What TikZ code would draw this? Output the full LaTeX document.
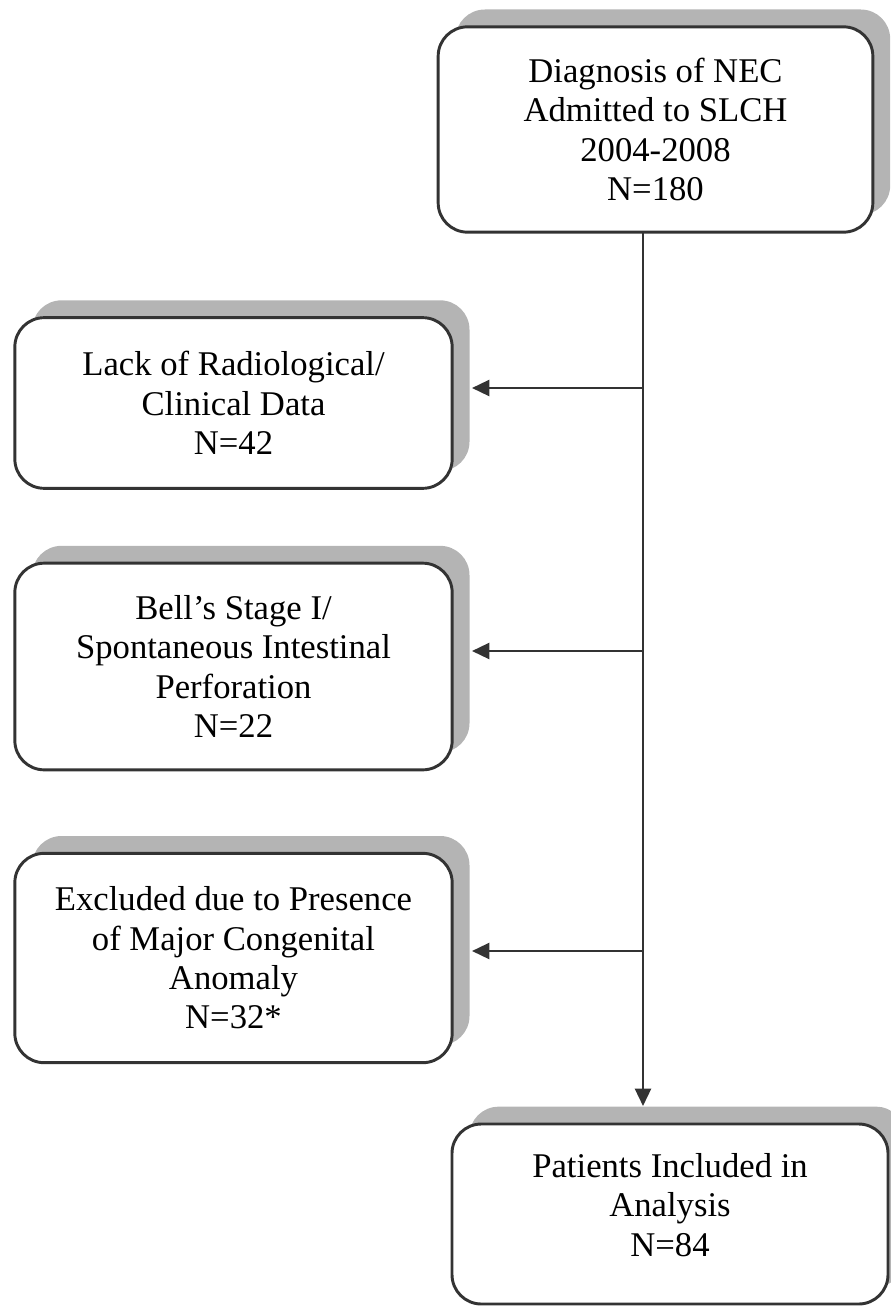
\documentclass[tikz,border=0pt]{standalone}
\usepackage{fontspec}
\setmainfont{Liberation Serif}
\usetikzlibrary{arrows.meta,shadows}
\definecolor{edge}{HTML}{333333}
\definecolor{shade}{HTML}{B4B4B4}
\begin{document}
\begin{tikzpicture}[x=0.75pt,y=-0.75pt,
  box/.style={draw=edge, line width=2.2pt, rounded corners=22pt, fill=white,
    align=center, font=\fontsize{26pt}{29.5pt}\selectfont, inner sep=0pt,
    drop shadow={shadow xshift=13pt, shadow yshift=13pt, fill=shade, opacity=1}},
  conn/.style={draw=edge, line width=1.8pt},
  tip/.style={-{Triangle[length=13pt,width=12pt]}}]
\useasboundingbox (0,0) rectangle (890,1306);
\node[box, minimum width=326pt, minimum height=154pt] (top) at (655.5,129.5)
  {Diagnosis of NEC\\Admitted to SLCH\\2004-2008\\N=180};
\node[box, minimum width=328pt, minimum height=128pt] (b1) at (233.5,403)
  {Lack of Radiological/\\Clinical Data\\N=42};
\node[box, minimum width=328pt, minimum height=155pt] (b2) at (233.5,666.5)
  {Bell's Stage I/\\Spontaneous Intestinal\\Perforation\\N=22};
\node[box, minimum width=328pt, minimum height=157pt] (b3) at (233.5,958)
  {Excluded due to Presence\\of Major Congenital\\Anomaly\\N=32*};
\node[box, minimum width=327pt, minimum height=135pt, text depth=14pt] (fin) at (670,1214)
  {Patients Included in\\Analysis\\N=84};
\coordinate (s) at (643,232);
\coordinate (e) at (643,1106);
\coordinate (j1) at (643,388);
\coordinate (j2) at (643,651);
\coordinate (j3) at (643,951);
\draw[conn] (s) -- (j1) -- (j2) -- (j3);
\draw[conn,tip] (j3) -- (e);
\draw[conn,tip] (j1) -- (472,388);
\draw[conn,tip] (j2) -- (472,651);
\draw[conn,tip] (j3) -- (472,951);
\end{tikzpicture}
\end{document}
